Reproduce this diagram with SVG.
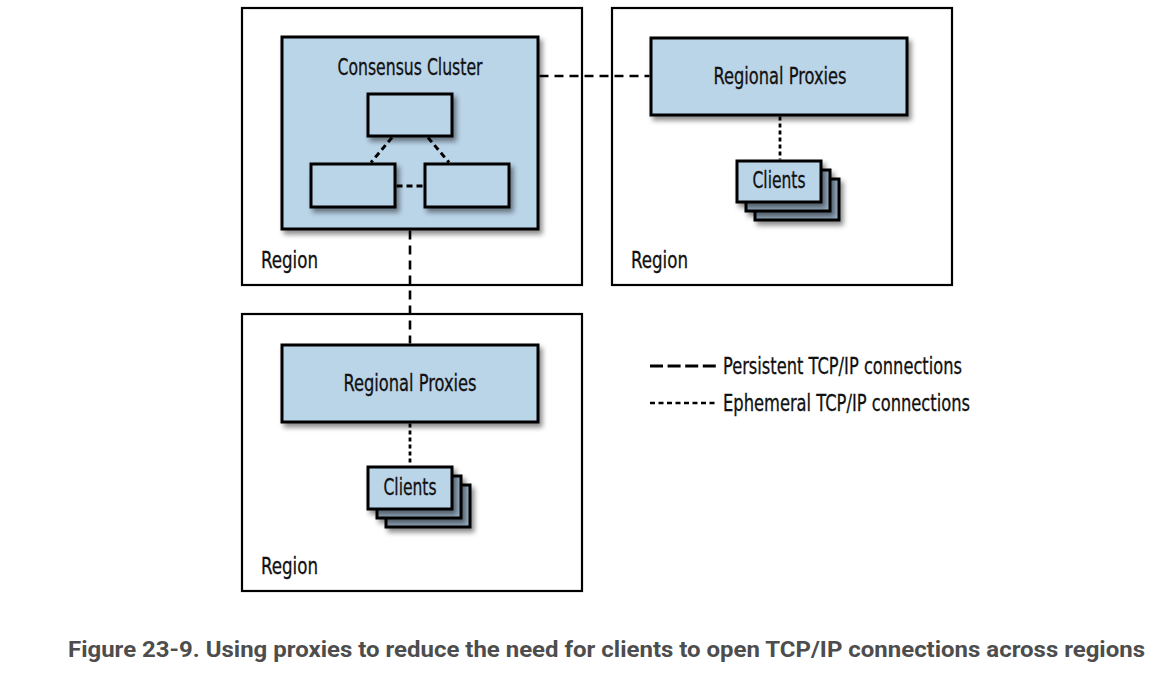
<svg xmlns="http://www.w3.org/2000/svg" width="1164" height="680" viewBox="0 0 1164 680">
  <defs>
    <filter id="shadow" x="-10%" y="-10%" width="130%" height="140%">
      <feDropShadow dx="3" dy="4" stdDeviation="2.5" flood-color="#000" flood-opacity="0.45"/>
    </filter>
  </defs>
  <style>
    .region { fill: #ffffff; stroke: #000; stroke-width: 2.2; }
    .box { fill: #bad4e8; stroke: #000; stroke-width: 3; filter: url(#shadow); }
    .back { fill: #97adc2; stroke: #000; stroke-width: 3; filter: url(#shadow); }
    .lbl { font-family: "Liberation Sans Narrow", "DejaVu Sans Condensed", "Liberation Sans", sans-serif; font-size: 23px; fill: #111; stroke: #111; stroke-width: 0.3; }
    .mid { text-anchor: middle; }
    .persist { fill: none; stroke: #000; stroke-width: 2.6; stroke-dasharray: 9 6; }
    .ephem { fill: none; stroke: #000; stroke-width: 2.8; stroke-dasharray: 4 3; }
    .inner { fill: none; stroke: #000; stroke-width: 3; stroke-dasharray: 6 4; }
    .caption { font-family: Roboto, "Liberation Sans", sans-serif; font-weight: bold; font-size: 22.5px; fill: #4d4d4d; }
  </style>

  <g id="region-1">
    <rect class="region" x="242" y="8" width="340" height="277"/>
    <text class="lbl" x="261" y="268" textLength="57" lengthAdjust="spacingAndGlyphs">Region</text>
  </g>
  <g id="region-2">
    <rect class="region" x="612" y="8" width="340" height="277"/>
    <text class="lbl" x="631" y="268" textLength="57" lengthAdjust="spacingAndGlyphs">Region</text>
  </g>
  <g id="region-3">
    <rect class="region" x="242" y="314" width="340" height="277"/>
    <text class="lbl" x="261" y="574" textLength="57" lengthAdjust="spacingAndGlyphs">Region</text>
  </g>

  <g id="consensus-cluster">
    <rect class="box" x="282" y="37" width="256" height="192"/>
    <text class="lbl mid" x="410" y="75" textLength="145" lengthAdjust="spacingAndGlyphs">Consensus Cluster</text>
  </g>
  <g id="cluster-node-top">
    <rect class="box" x="368" y="94" width="84" height="42"/>
  </g>
  <g id="cluster-node-left">
    <rect class="box" x="311" y="164" width="84" height="43"/>
  </g>
  <g id="cluster-node-right">
    <rect class="box" x="425" y="164" width="84" height="43"/>
  </g>

  <g id="proxies-top">
    <rect class="box" x="651" y="38" width="256" height="77"/>
    <text class="lbl mid" x="780" y="84" textLength="133" lengthAdjust="spacingAndGlyphs">Regional Proxies</text>
  </g>
  <g id="clients-top">
    <rect class="back" x="755" y="179" width="84" height="41"/>
    <rect class="back" x="746" y="170" width="84" height="41"/>
    <rect class="box" x="737" y="161" width="84" height="41"/>
    <text class="lbl mid" x="779" y="188" textLength="53" lengthAdjust="spacingAndGlyphs">Clients</text>
  </g>

  <g id="proxies-bottom">
    <rect class="box" x="282" y="345" width="256" height="77"/>
    <text class="lbl mid" x="410" y="391" textLength="133" lengthAdjust="spacingAndGlyphs">Regional Proxies</text>
  </g>
  <g id="clients-bottom">
    <rect class="back" x="386" y="485" width="84" height="42"/>
    <rect class="back" x="377" y="476" width="84" height="42"/>
    <rect class="box" x="368" y="467" width="84" height="42"/>
    <text class="lbl mid" x="410" y="495" textLength="53" lengthAdjust="spacingAndGlyphs">Clients</text>
  </g>

  <g id="connectors">
    <line class="persist" x1="539.5" y1="76" x2="649.5" y2="76"/>
    <line class="persist" x1="410" y1="230.5" x2="410" y2="343.5"/>
    <line class="inner" x1="392" y1="137.5" x2="371" y2="162.5"/>
    <line class="inner" x1="428" y1="137.5" x2="449" y2="162.5"/>
    <line class="inner" x1="396.5" y1="186" x2="423.5" y2="186"/>
    <line class="ephem" x1="780" y1="116.5" x2="780" y2="159.5"/>
    <line class="ephem" x1="410" y1="423.5" x2="410" y2="465.5"/>
  </g>

  <g id="legend">
    <line x1="650" y1="366" x2="716" y2="366" stroke="#000" stroke-width="3" stroke-dasharray="13 4.6"/>
    <text class="lbl" x="723" y="374" textLength="239" lengthAdjust="spacingAndGlyphs">Persistent TCP/IP connections</text>
    <line x1="650" y1="403" x2="718" y2="403" stroke="#000" stroke-width="2.6" stroke-dasharray="5 3.5"/>
    <text class="lbl" x="723" y="411" textLength="247" lengthAdjust="spacingAndGlyphs">Ephemeral TCP/IP connections</text>
  </g>

  <text class="caption" x="68" y="657" textLength="1077" lengthAdjust="spacingAndGlyphs">Figure 23-9. Using proxies to reduce the need for clients to open TCP/IP connections across regions</text>
</svg>
